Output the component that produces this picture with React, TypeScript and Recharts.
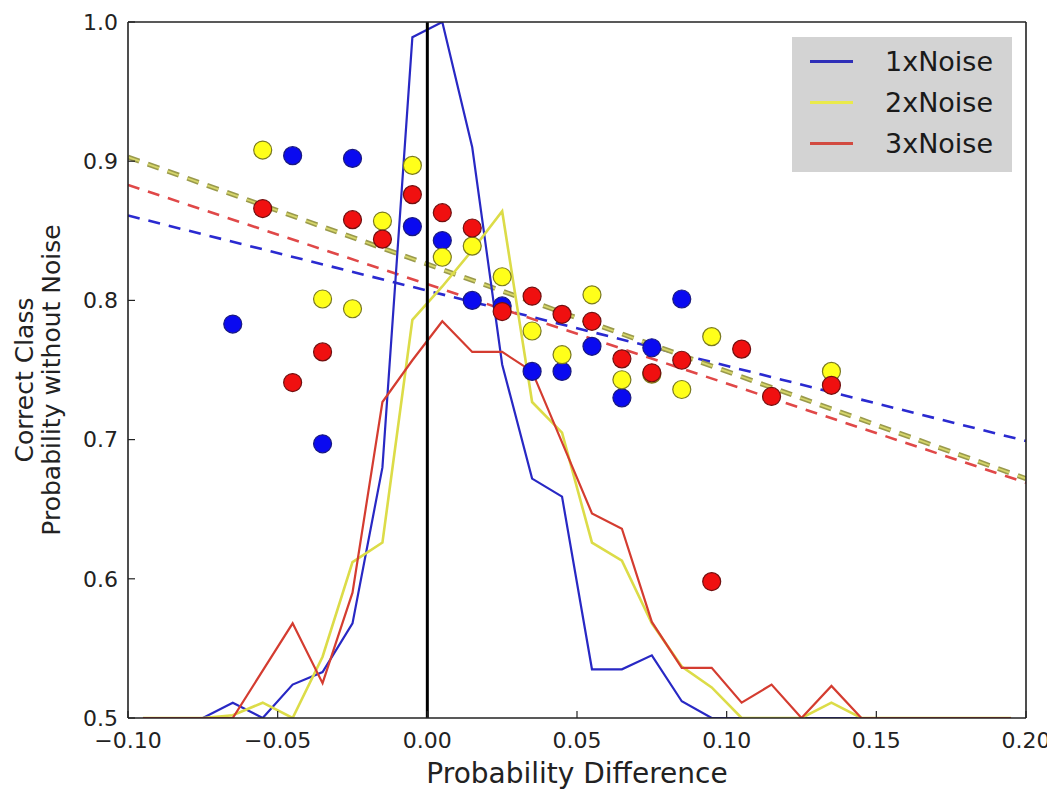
import React from 'react';
import { ComposedChart, Line, Scatter, XAxis, YAxis, ReferenceLine, Legend } from 'recharts';

// bin centres of the solid (distribution) curves
const binCenters = [
  -0.095, -0.085, -0.075, -0.065, -0.055, -0.045, -0.035, -0.025, -0.015, -0.005,
  0.005, 0.015, 0.025, 0.035, 0.045, 0.055, 0.065, 0.075, 0.085, 0.095,
  0.105, 0.115, 0.125, 0.135, 0.145, 0.155, 0.165, 0.175, 0.185, 0.195,
];
const noise1Curve = [
  0.5, 0.5, 0.5, 0.511, 0.5, 0.524, 0.533, 0.568, 0.68, 0.989,
  1.0, 0.91, 0.754, 0.672, 0.659, 0.535, 0.535, 0.545, 0.512, 0.5,
  0.5, 0.5, 0.5, 0.5, 0.5, 0.5, 0.5, 0.5, 0.5, 0.5,
];
const noise2Curve = [
  0.5, 0.5, 0.5, 0.502, 0.511, 0.5, 0.544, 0.612, 0.626, 0.786,
  0.81, 0.836, 0.864, 0.727, 0.705, 0.626, 0.613, 0.568, 0.537, 0.522,
  0.5, 0.5, 0.5, 0.511, 0.5, 0.5, 0.5, 0.5, 0.5, 0.5,
];
const noise3Curve = [
  0.5, 0.5, 0.5, 0.5, 0.534, 0.568, 0.525, 0.59, 0.727, 0.757,
  0.785, 0.763, 0.763, 0.749, 0.698, 0.647, 0.636, 0.569, 0.536, 0.536,
  0.511, 0.524, 0.5, 0.523, 0.5, 0.5, 0.5, 0.5, 0.5, 0.5,
];

// scatter points
const noise1PointX = [-0.065, -0.045, -0.035, -0.025, -0.005, 0.005, 0.015, 0.025, 0.035, 0.045, 0.055, 0.065, 0.075, 0.085];
const noise1PointY = [0.783, 0.904, 0.697, 0.902, 0.853, 0.843, 0.8, 0.796, 0.749, 0.749, 0.767, 0.73, 0.766, 0.801];
const noise2PointX = [-0.055, -0.035, -0.025, -0.015, -0.005, 0.005, 0.015, 0.025, 0.035, 0.045, 0.055, 0.065, 0.075, 0.085, 0.095, 0.135];
const noise2PointY = [0.908, 0.801, 0.794, 0.857, 0.897, 0.831, 0.839, 0.817, 0.778, 0.761, 0.804, 0.743, 0.747, 0.736, 0.774, 0.749];
const noise3PointX = [-0.055, -0.045, -0.035, -0.025, -0.015, -0.005, 0.005, 0.015, 0.025, 0.035, 0.045, 0.055, 0.065, 0.075, 0.085, 0.095, 0.105, 0.115, 0.135];
const noise3PointY = [0.866, 0.741, 0.763, 0.858, 0.844, 0.876, 0.863, 0.852, 0.792, 0.803, 0.79, 0.785, 0.758, 0.748, 0.757, 0.598, 0.765, 0.731, 0.739];

// linear fits (dashed)
const fitX = [-0.1, 0.2];
const noise1Fit = [0.861, 0.699];
const noise2Fit = [0.903, 0.672];
const noise3Fit = [0.883, 0.669];

const xTicks = [-0.1, -0.05, 0, 0.05, 0.1, 0.15, 0.2];
const yTicks = [0.5, 0.6, 0.7, 0.8, 0.9, 1.0];
const seriesNames = ['1xNoise', '2xNoise', '3xNoise'];
const legendColors = ['#2f2fb8', '#eaea4a', '#d24a40'];

const toPts = (xs: number[], ys: number[]) => xs.map((x, i) => ({ x, y: ys[i] }));

const FONT = "'DejaVu Sans', sans-serif";

const fmtX = (v: number) => {
  if (Math.abs(v) < 1e-9) return '0.00';
  return v < 0 ? '\u2212' + Math.abs(v).toFixed(2) : v.toFixed(2);
};

const dot = (fill: string, stroke: string) => (props: any) => (
  <circle cx={props.cx} cy={props.cy} r={9} fill={fill} stroke={stroke} strokeWidth={1.2} />
);

const YLabel = (props: any) => {
  const vb = props.viewBox || { x: 0, y: 14, width: 120, height: 696 };
  const cy = vb.y + vb.height / 2 + 10;
  const x1 = vb.x + 25;
  const x2 = vb.x + 52;
  return (
    <g>
      <text x={x1} y={cy} textAnchor="middle" transform={`rotate(-90, ${x1}, ${cy})`} fontFamily={FONT} fontSize={25} fill="#222">
        Correct Class
      </text>
      <text x={x2} y={cy} textAnchor="middle" transform={`rotate(-90, ${x2}, ${cy})`} fontFamily={FONT} fontSize={25} fill="#222">
        Probability without Noise
      </text>
    </g>
  );
};

const XLabel = (props: any) => {
  const vb = props.viewBox || { x: 120, y: 710, width: 898, height: 73 };
  return (
    <text x={vb.x + vb.width / 2} y={vb.y + 65} textAnchor="middle" fontFamily={FONT} fontSize={28} fill="#222">
      Probability Difference
    </text>
  );
};

const LegendBox = () => (
  <div style={{ width: 220, height: 135, background: '#d3d3d3', boxSizing: 'border-box', paddingTop: 4, fontFamily: FONT }}>
    {seriesNames.map((n, i) => (
      <div key={n} style={{ height: 41, display: 'flex', alignItems: 'center' }}>
        <div style={{ width: 43, height: 3, background: legendColors[i], marginLeft: 18, marginRight: 32 }} />
        <span style={{ fontSize: 27, color: '#1a1a1a' }}>{n}</span>
      </div>
    ))}
  </div>
);

export default function App() {
  const axisStroke = '#222';
  return (
    <ComposedChart
      width={1047}
      height={783}
      margin={{ top: 13, right: 28, left: 0, bottom: 0 }}
      style={{ background: '#fff' }}
    >
      <XAxis
        xAxisId={0}
        dataKey="x"
        type="number"
        domain={[-0.1, 0.2]}
        allowDataOverflow
        ticks={xTicks}
        interval={0}
        tickFormatter={fmtX}
        height={73}
        tickSize={-7}
        tickMargin={21}
        stroke={axisStroke}
        axisLine={{ stroke: axisStroke, strokeWidth: 1.6 }}
        tickLine={{ stroke: axisStroke, strokeWidth: 1.2 }}
        tick={{ fontFamily: FONT, fontSize: 22, fill: '#222' }}
        label={<XLabel />}
      />
      <XAxis
        xAxisId="top"
        orientation="top"
        dataKey="x"
        type="number"
        domain={[-0.1, 0.2]}
        allowDataOverflow
        ticks={xTicks}
        interval={0}
        height={1}
        tickSize={-7}
        axisLine={{ stroke: axisStroke, strokeWidth: 1.6 }}
        tickLine={{ stroke: axisStroke, strokeWidth: 1.2 }}
        tick={false}
      />
      <YAxis
        yAxisId={0}
        type="number"
        domain={[0.5, 1.0]}
        allowDataOverflow
        ticks={yTicks}
        interval={0}
        tickFormatter={(v: number) => v.toFixed(1)}
        width={120}
        tickSize={-7}
        tickMargin={17}
        axisLine={{ stroke: axisStroke, strokeWidth: 1.6 }}
        tickLine={{ stroke: axisStroke, strokeWidth: 1.2 }}
        tick={{ fontFamily: FONT, fontSize: 22, fill: '#222' }}
        label={<YLabel />}
      />
      <YAxis
        yAxisId="right"
        orientation="right"
        type="number"
        domain={[0.5, 1.0]}
        allowDataOverflow
        ticks={yTicks}
        interval={0}
        width={1}
        tickSize={-7}
        axisLine={{ stroke: axisStroke, strokeWidth: 1.6 }}
        tickLine={{ stroke: axisStroke, strokeWidth: 1.2 }}
        tick={false}
      />

      <Scatter name="1xNoise points" data={toPts(noise1PointX, noise1PointY)} dataKey="y" shape={dot('#0a0af0', '#1a1a80')} isAnimationActive={false} legendType="none" />
      <Scatter name="2xNoise points" data={toPts(noise2PointX, noise2PointY)} dataKey="y" shape={dot('#ffff1a', '#7a7a20')} isAnimationActive={false} legendType="none" />
      <Scatter name="3xNoise points" data={toPts(noise3PointX, noise3PointY)} dataKey="y" shape={dot('#f01010', '#701010')} isAnimationActive={false} legendType="none" />

      <Line name="1xNoise fit" data={toPts(fitX, noise1Fit)} dataKey="y" type="linear" stroke="#2a2ad0" strokeWidth={2.6} strokeDasharray="12 9" dot={false} activeDot={false} isAnimationActive={false} legendType="none" />
      <Line name="3xNoise fit" data={toPts(fitX, noise3Fit)} dataKey="y" type="linear" stroke="#e04848" strokeWidth={2.6} strokeDasharray="12 9" dot={false} activeDot={false} isAnimationActive={false} legendType="none" />
      <Line name="2xNoise fit edge" data={toPts(fitX, noise2Fit)} dataKey="y" type="linear" stroke="#9a9a4c" strokeWidth={5} strokeDasharray="12 9" dot={false} activeDot={false} isAnimationActive={false} legendType="none" />
      <Line name="2xNoise fit" data={toPts(fitX, noise2Fit)} dataKey="y" type="linear" stroke="#d6d66a" strokeWidth={1.8} strokeDasharray="12 9" dot={false} activeDot={false} isAnimationActive={false} legendType="none" />

      <Line name="1xNoise" data={toPts(binCenters, noise1Curve)} dataKey="y" type="linear" stroke="#2828c4" strokeWidth={2.2} dot={false} activeDot={false} isAnimationActive={false} />
      <Line name="2xNoise" data={toPts(binCenters, noise2Curve)} dataKey="y" type="linear" stroke="#dcdc48" strokeWidth={2.6} dot={false} activeDot={false} isAnimationActive={false} />
      <Line name="3xNoise" data={toPts(binCenters, noise3Curve)} dataKey="y" type="linear" stroke="#d43c30" strokeWidth={2.2} dot={false} activeDot={false} isAnimationActive={false} />

      <ReferenceLine x={0} stroke="#000" strokeWidth={3} />

      <Legend
        layout="vertical"
        align="center"
        verticalAlign="middle"
        wrapperStyle={{ position: 'absolute', left: 784, top: 29, width: 220, height: 135 }}
        content={() => <LegendBox />}
      />
    </ComposedChart>
  );
}
